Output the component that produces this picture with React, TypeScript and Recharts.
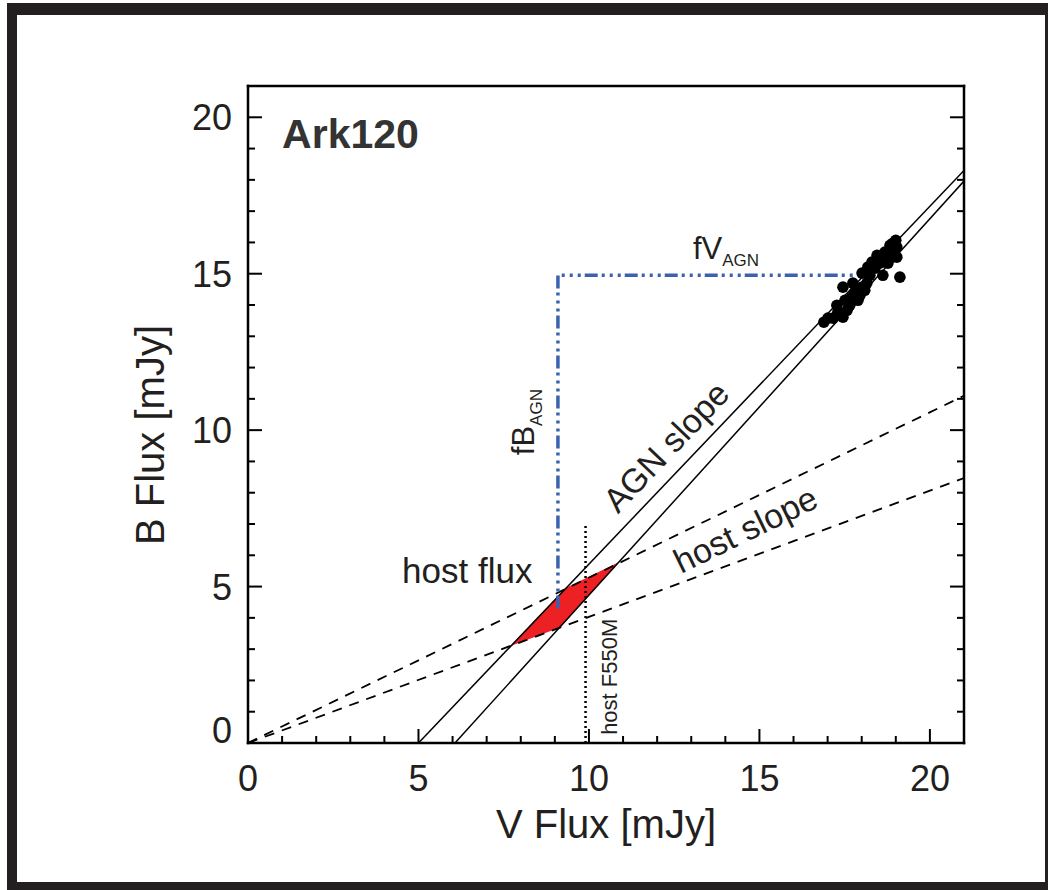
import React from 'react';
import { ComposedChart, XAxis, YAxis, Scatter, ReferenceDot } from 'recharts';

const FONT = '"Liberation Sans", Arial, Helvetica, sans-serif';
const INK = '#231f20';

// axis ticks: labelled every 5, small marks every 1
const majorTicks = [0, 5, 10, 15, 20];
const minorTicks = [0, 1, 2, 3, 4, 5, 6, 7, 8, 9, 10, 11, 12, 13, 14, 15, 16, 17, 18, 19, 20, 21];

// Ark120 monitoring points (V flux, B flux in mJy)
const fluxV = [16.89, 17.01, 17.16, 17.45, 17.27, 17.30, 17.51, 17.57, 17.45, 17.65, 17.74, 17.80, 17.95, 17.71, 17.89,
  18.01, 18.01, 18.09, 18.15, 18.18, 18.24, 18.30, 18.39, 18.45, 18.53, 18.53, 18.62, 19.12, 18.68, 18.77, 18.83,
  18.91, 19.03, 18.68, 18.89, 19.03, 18.77, 18.91, 19.00];
const fluxB = [13.45, 13.58, 13.58, 13.61, 13.99, 13.77, 14.15, 13.83, 14.57, 13.99, 14.70, 14.41, 14.31, 14.25, 14.15,
  14.57, 15.02, 14.47, 14.70, 15.21, 14.95, 15.37, 15.18, 15.59, 15.34, 15.50, 14.95, 14.89, 15.69, 15.65, 15.91,
  15.97, 15.85, 15.43, 15.53, 15.53, 15.34, 15.75, 16.07];

// fitted lines
const agnSlopeA = [{ v: 5.0, b: 0 }, { v: 21, b: 18.3 }];
const agnSlopeB = [{ v: 6.07, b: 0 }, { v: 21, b: 17.96 }];
const hostSlopeHigh = [{ v: 0, b: 0 }, { v: 21, b: 11.1 }];
const hostSlopeLow = [{ v: 0, b: 0 }, { v: 21, b: 8.47 }];
const hostF550M = [{ v: 9.9, b: 0 }, { v: 9.9, b: 7.0 }];
const agnFluxPath = [{ v: 9.09, b: 4.3 }, { v: 9.09, b: 14.95 }, { v: 18.1, b: 14.95 }];
const hostFluxRegion = [{ v: 7.72, b: 3.11 }, { v: 9.32, b: 4.94 }, { v: 10.85, b: 5.75 }, { v: 9.13, b: 3.68 }];

const fluxPoints = fluxV.map((v, i) => ({ v, b: fluxB[i] }));

const noShape = () => <g />;

// inward tick marks (long on multiples of 5), optional number labels
const tickMark = (side: 'bottom' | 'top' | 'left' | 'right') => (p: any) => {
  const val = p.payload.value;
  const major = majorTicks.includes(val);
  const len = major ? 14 : 7;
  const { x, y } = p;
  const dx = side === 'left' ? len : side === 'right' ? -len : 0;
  const dy = side === 'bottom' ? -len : side === 'top' ? len : 0;
  return (
    <g>
      <line x1={x} y1={y} x2={x + dx} y2={y + dy} stroke="#000" strokeWidth={2} />
      {major && side === 'bottom' && (
        <text x={x} y={y + 48} textAnchor="middle" fontSize={36} fill={INK} fontFamily={FONT}>{val}</text>
      )}
      {major && side === 'left' && (
        <text x={x - 16} y={y + 13 - (val === 0 ? 13 : 0)} textAnchor="end" fontSize={36} fill={INK} fontFamily={FONT}>{val}</text>
      )}
    </g>
  );
};

const note = (key: string, v: number, b: number, draw: (x: number, y: number) => React.ReactElement) => (
  <ReferenceDot
    key={key}
    xAxisId="x"
    yAxisId="y"
    x={v}
    y={b}
    r={0}
    fill="none"
    stroke="none"
    ifOverflow="visible"
    label={(p: any) => draw(p.viewBox.x, p.viewBox.y)}
  />
);

const txt = { fill: INK, fontFamily: FONT } as const;
const frameLine = { stroke: '#000', strokeWidth: 2.5, strokeLinecap: 'square' as const };

export default function App() {
  return (
    <div style={{ position: 'absolute', left: 0, top: 0, width: 1048, height: 890, background: '#fff' }}>
      <div
        style={{
          position: 'absolute', left: 7, top: 3, width: 1041, height: 887, boxSizing: 'border-box',
          borderStyle: 'solid', borderColor: INK, borderWidth: '12px 3px 8px 10px',
        }}
      />
      <div style={{ position: 'absolute', left: 0, top: 0 }}>
        <ComposedChart width={1048} height={890} margin={{ top: 86, right: 84, bottom: 87, left: 148 }}>
          <XAxis
            xAxisId="x" type="number" dataKey="v" domain={[0, 21]} allowDataOverflow ticks={minorTicks} interval={0}
            height={60} tickSize={0} tickMargin={0} tickLine={false} axisLine={frameLine}
            tick={tickMark('bottom')}
            label={(p: any) => (
              <text x={p.viewBox.x + p.viewBox.width / 2} y={838} textAnchor="middle" fontSize={40} {...txt}>V Flux [mJy]</text>
            )}
          />
          <YAxis
            yAxisId="y" type="number" dataKey="b" domain={[0, 21]} allowDataOverflow ticks={minorTicks} interval={0}
            width={100} tickSize={0} tickMargin={0} tickLine={false} axisLine={frameLine}
            tick={tickMark('left')}
            label={() => (
              <text x={0} y={0} transform="translate(164, 435) rotate(-90)" textAnchor="middle" fontSize={40} {...txt}>B Flux [mJy]</text>
            )}
          />
          <XAxis
            xAxisId="xt" orientation="top" mirror type="number" domain={[0, 21]} allowDataOverflow ticks={minorTicks} interval={0}
            height={30} tickSize={0} tickMargin={0} tickLine={false} axisLine={frameLine} tick={tickMark('top')}
          />
          <YAxis
            yAxisId="yr" orientation="right" mirror type="number" domain={[0, 21]} allowDataOverflow ticks={minorTicks} interval={0}
            width={30} tickSize={0} tickMargin={0} tickLine={false} axisLine={frameLine} tick={tickMark('right')}
          />

          {/* host flux region */}
          <Scatter xAxisId="x" yAxisId="y" data={hostFluxRegion} shape={noShape} isAnimationActive={false}
            line={{ fill: '#ed2024', stroke: '#ed2024', strokeWidth: 1 }} lineType="joint" />

          <Scatter xAxisId="x" yAxisId="y" data={agnSlopeA} shape={noShape} isAnimationActive={false}
            line={{ stroke: '#000', strokeWidth: 1.5 }} lineType="joint" />
          <Scatter xAxisId="x" yAxisId="y" data={agnSlopeB} shape={noShape} isAnimationActive={false}
            line={{ stroke: '#000', strokeWidth: 1.5 }} lineType="joint" />
          <Scatter xAxisId="x" yAxisId="y" data={hostSlopeHigh} shape={noShape} isAnimationActive={false}
            line={{ stroke: '#000', strokeWidth: 1.8, strokeDasharray: '10 8' }} lineType="joint" />
          <Scatter xAxisId="x" yAxisId="y" data={hostSlopeLow} shape={noShape} isAnimationActive={false}
            line={{ stroke: '#000', strokeWidth: 1.8, strokeDasharray: '10 8' }} lineType="joint" />
          <Scatter xAxisId="x" yAxisId="y" data={hostF550M} shape={noShape} isAnimationActive={false}
            line={{ stroke: '#000', strokeWidth: 2.5, strokeDasharray: '2 3' }} lineType="joint" />
          <Scatter xAxisId="x" yAxisId="y" data={agnFluxPath} shape={noShape} isAnimationActive={false}
            line={{ stroke: '#3b62b0', strokeWidth: 3.5, strokeDasharray: '13 4 3 5 3 5 3 4' }} lineType="joint" />

          <Scatter xAxisId="x" yAxisId="y" data={fluxPoints} isAnimationActive={false}
            shape={(p: any) => <circle cx={p.cx} cy={p.cy} r={5.8} fill="#000" />} />

          {note('ark', 1.0, 19.01, (x, y) => (
            <text x={x} y={y} fontSize={41} fontWeight="bold" fill="#333" fontFamily={FONT}>Ark120</text>
          ))}
          {note('hostflux', 4.52, 5.11, (x, y) => (
            <text x={x} y={y} fontSize={35} {...txt}>host flux</text>
          ))}
          {note('fv', 13.05, 15.46, (x, y) => (
            <text x={x} y={y} fontSize={31} {...txt}>fV<tspan fontSize={17} dy={7}>AGN</tspan></text>
          ))}
          {note('fb', 8.39, 9.2, (x, y) => (
            <text x={x} y={y} transform={`rotate(-90, ${x}, ${y})`} fontSize={31} {...txt}>fB<tspan fontSize={17} dy={8}>AGN</tspan></text>
          ))}
          {note('agnslope', 10.85, 7.3, (x, y) => (
            <text x={x} y={y} transform={`rotate(-46.4, ${x}, ${y})`} fontSize={34} {...txt}>AGN slope</text>
          ))}
          {note('hostslope', 12.7, 5.4, (x, y) => (
            <text x={x} y={y} transform={`rotate(-26, ${x}, ${y})`} fontSize={34} {...txt}>host slope</text>
          ))}
          {note('f550m', 10.82, 0.26, (x, y) => (
            <text x={x} y={y} transform={`rotate(-90, ${x}, ${y})`} fontSize={22} {...txt}>host F550M</text>
          ))}
        </ComposedChart>
      </div>
    </div>
  );
}
